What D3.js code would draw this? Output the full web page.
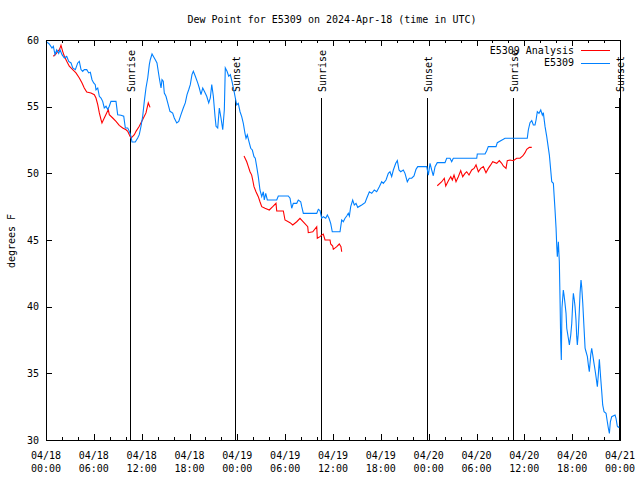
<!DOCTYPE html>
<html><head><meta charset="utf-8">
<script src="https://cdn.jsdelivr.net/npm/d3@7/dist/d3.min.js"></script>
<style>body{margin:0;background:#fff}svg{display:block}</style>
</head><body><svg id="c" width="640" height="480"></svg>
<script>
// ---- data (hours since 2024-04-18 00:00 UTC, dew point in °F) ----
const titleText = "Dew Point for E5309 on 2024-Apr-18 (time in UTC)";
const yLabel = "degrees F";
const xTickHours = [0,6,12,18,24,30,36,42,48,54,60,66,72];
const xTickDates = ["04/18","04/18","04/18","04/18","04/19","04/19","04/19","04/19","04/20","04/20","04/20","04/20","04/21"];
const xTickTimes = ["00:00","06:00","12:00","18:00","00:00","06:00","12:00","18:00","00:00","06:00","12:00","18:00","00:00"];
const yTicks = [30,35,40,45,50,55,60];
const sunHours = [10.54, 23.83, 34.5, 47.83, 58.62, 71.93];
const sunNames = ["Sunrise","Sunset","Sunrise","Sunset","Sunrise","Sunset"];
const seriesNames = ["E5309 Analysis","E5309"];

const blueT = [0,0.41,0.75,0.92,1.13,1.34,1.59,1.76,2.01,2.30,2.60,2.85,3.14,3.35,3.68,3.98,4.18,4.39,4.60,4.80,5.11,5.36,5.56,5.77,5.98,6.18,6.27,6.49,6.69,6.90,7.11,7.31,7.53,7.74,7.94,8.15,8.78,8.99,9.41,9.75,9.95,10.25,10.45,10.66,10.79,11.20,11.50,11.70,11.92,12.13,12.33,12.54,12.76,12.96,13.08,13.30,13.46,13.71,13.92,14.21,14.43,14.55,14.71,14.84,15.05,15.27,15.55,15.89,16.09,16.40,16.65,16.93,17.22,17.47,17.69,17.90,18.10,18.31,18.48,18.73,19.03,19.23,19.44,19.66,19.86,20.16,20.41,20.61,20.79,20.99,21.20,21.33,21.54,21.74,21.95,22.17,22.37,22.49,22.71,22.92,23.12,23.33,23.55,23.75,23.92,24.12,24.34,24.55,24.75,24.96,25.09,25.25,25.46,25.68,25.88,26.09,26.25,26.43,26.63,26.84,27.06,27.26,27.38,27.56,27.76,28.94,29.14,30.39,30.61,30.82,31.02,31.45,31.65,31.95,32.08,32.28,33.96,34.16,34.37,34.58,34.78,35.09,35.29,35.50,35.71,35.91,36.88,37.09,37.29,37.51,37.72,37.92,38.05,38.22,38.47,38.67,38.89,39.10,39.60,40.02,40.23,40.56,40.86,41.18,41.48,41.81,42.11,42.31,42.65,42.94,43.15,43.36,43.57,43.87,44.07,44.28,44.49,44.82,45.03,45.32,45.57,45.87,46.16,46.41,46.63,47.76,47.96,48.17,48.38,48.58,48.80,49.08,50.05,50.26,50.68,50.89,51.09,54.03,54.10,55.07,55.28,55.48,56.45,56.61,57.58,60.37,60.50,60.71,60.93,61.13,61.34,61.47,61.63,61.84,62.06,62.26,62.38,62.60,62.81,63.14,63.44,63.64,63.85,63.98,64.07,64.14,64.27,64.39,64.48,64.56,64.64,64.72,64.89,64.98,65.10,65.23,65.32,65.52,65.65,65.82,65.95,66.07,66.15,66.27,66.36,66.48,66.57,66.65,66.77,66.90,66.99,67.11,67.20,67.33,67.49,67.62,67.74,67.91,68.03,68.15,68.33,68.45,68.58,68.74,68.87,68.99,69.16,69.28,69.41,69.58,69.71,69.83,70.00,70.25,70.41,70.54,70.67,70.79,70.96,71.38,71.50,71.66,71.79,71.92];
const blueV = [59.9,59.7,59.4,59.53,58.9,59.27,59.0,59.27,58.9,58.65,58.78,58.4,58.28,57.9,57.78,58.28,58.4,57.78,57.65,57.78,57.78,57.53,57.58,57.02,56.78,56.65,56.27,56.4,55.78,55.65,55.4,54.9,55.03,54.78,55.03,55.4,55.4,54.4,54.35,54.28,53.4,53.4,53.15,52.78,52.35,52.35,52.65,52.9,53.53,54.28,55.4,56.4,57.15,58.15,58.52,58.95,58.78,58.52,58.28,57.15,56.4,57.02,56.9,56.02,55.78,55.28,54.65,54.52,54.15,53.78,53.9,54.4,54.9,55.28,55.9,56.27,56.65,57.4,57.65,57.28,56.78,56.4,55.9,56.4,56.15,55.78,55.28,55.65,56.65,55.78,54.28,53.53,53.4,54.9,54.15,53.27,54.77,57.9,57.65,57.28,57.4,56.9,56.27,55.65,55.13,55.25,54.62,54.25,53.75,53.0,52.63,52.88,52.37,51.88,51.75,51.25,51.13,50.5,49.75,48.75,48.25,48.62,48.0,48.5,48.0,48.0,48.3,48.3,48.13,47.38,47.75,47.75,48.0,47.87,47.5,47.0,47.0,47.3,47.2,46.63,46.75,46.63,46.88,46.63,46.25,45.62,45.62,46.5,46.37,46.63,46.8,47.0,46.8,47.5,48.0,47.63,47.75,47.45,47.63,47.8,48.13,48.62,48.5,48.75,48.62,49.0,49.37,49.25,49.5,50.0,50.12,49.75,50.25,50.75,50.95,50.25,50.12,50.25,50.0,49.37,49.63,49.63,49.8,50.3,50.5,50.5,49.87,50.75,50.25,49.82,50.5,50.8,50.8,51.13,51.13,50.87,51.13,51.13,51.45,51.45,51.7,52.0,52.0,52.3,52.63,52.63,53.25,53.8,53.95,53.63,53.63,54.0,54.62,54.5,54.75,54.37,54.55,53.5,52.75,51.37,49.37,49.25,47.25,45.88,44.5,43.75,44.87,43.37,40.5,37.5,36.0,39.9,41.25,40.87,40.25,39.5,38.38,37.63,37.13,37.87,38.75,40.25,41.0,40.5,40.0,39.0,37.75,37.13,38.0,39.75,41.0,42.0,41.45,40.25,38.38,36.88,36.62,36.25,35.63,35.12,36.38,36.88,36.38,35.75,35.25,34.75,34.0,34.88,36.05,34.63,33.62,32.63,32.12,32.0,31.37,30.88,30.5,31.37,31.75,31.87,31.63,31.05,30.95,31.0];

// null marks a gap in the analysis series
const redT = [0.92,1.25,1.47,1.67,1.79,1.88,2.09,2.30,2.60,2.92,3.35,3.76,4.18,4.52,4.80,5.11,5.64,6.06,6.27,6.49,6.69,6.90,7.02,7.31,7.61,7.81,7.94,8.37,8.78,9.19,9.62,10.04,10.25,10.45,10.66,10.88,11.08,11.29,11.70,12.13,12.54,12.83,13.05,null,
 24.84,25.18,25.38,25.59,25.80,25.93,26.09,26.34,26.63,26.84,27.06,27.47,28.01,28.44,28.85,28.94,29.77,29.98,30.61,30.95,31.45,31.86,32.36,32.83,32.90,33.46,33.96,34.03,34.37,34.58,34.78,35.00,35.63,35.71,35.96,36.04,36.47,36.79,37.00,37.09,null,
 49.08,49.64,49.96,50.14,50.47,50.77,50.97,51.18,51.43,51.72,52.02,52.27,52.56,52.77,53.06,53.40,53.69,53.94,54.23,54.53,54.86,55.19,55.48,55.78,56.03,56.54,56.86,57.16,57.36,57.70,57.86,58.20,58.62,59.04,59.46,59.80,60.09,60.30,60.63,60.93];
const redV = [58.78,58.95,59.15,59.27,59.45,59.6,59.15,58.78,58.4,58.03,57.78,57.53,57.15,56.78,56.4,56.1,56.03,55.9,55.65,55.15,54.53,54.03,53.78,54.15,54.53,54.78,54.4,54.15,53.9,53.6,53.4,53.27,53.15,52.9,52.65,52.78,52.9,53.15,53.53,54.03,54.53,55.28,54.95,null,
 51.3,50.87,50.5,50.12,49.87,49.5,49.0,48.62,48.25,47.87,47.5,47.38,47.25,47.5,47.75,47.18,47.18,46.5,46.3,46.13,46.37,46.63,46.3,46.0,45.55,45.62,46.0,45.13,45.25,45.37,45.45,45.0,45.0,44.7,44.55,44.3,44.5,44.7,44.5,44.12,null,
 49.07,49.37,49.63,49.05,49.45,49.75,49.5,49.87,49.37,49.75,50.2,49.75,50.0,50.12,49.87,50.25,50.37,50.63,50.12,50.37,50.5,50.05,50.37,50.63,50.87,50.75,50.95,50.75,50.55,50.37,50.95,51.0,50.95,51.13,51.13,51.3,51.55,51.8,51.95,51.95];

// ---- drawing ----
const L = 46, R = 620, FR = 621, T = 40, B = 440;
const FONT = "'DejaVu Sans Mono', 'Liberation Mono', monospace";
const svg = d3.select("#c").style("font-family", FONT).style("font-size", "10px");
const x = d3.scaleLinear().domain([0, 72]).range([L, R]);
const y = d3.scaleLinear().domain([30, 60]).range([B, T]);
const minorX = d3.range(0, 73, 2);

// axes (ticks point inward)
const gB = svg.append("g").attr("transform", `translate(0,${B})`).attr("shape-rendering","crispEdges");
gB.call(d3.axisBottom(x).tickValues(minorX).tickSizeInner(-3).tickSizeOuter(0).tickFormat(""));
gB.append("g").call(d3.axisBottom(x).tickValues(xTickHours).tickSizeInner(-6).tickSizeOuter(0).tickFormat(""));
const gT = svg.append("g").attr("transform", `translate(0,${T})`).attr("shape-rendering","crispEdges");
gT.call(d3.axisTop(x).tickValues(minorX).tickSizeInner(-3).tickSizeOuter(0).tickFormat(""));
gT.append("g").call(d3.axisTop(x).tickValues(xTickHours).tickSizeInner(-6).tickSizeOuter(0).tickFormat(""));
const gL = svg.append("g").attr("transform", `translate(${L},0)`).attr("shape-rendering","crispEdges");
gL.call(d3.axisLeft(y).tickValues(yTicks).tickSizeInner(-6).tickSizeOuter(0).tickPadding(7).tickFormat(d3.format("d")));
const gR = svg.append("g").attr("transform", `translate(${FR},0)`).attr("shape-rendering","crispEdges");
gR.call(d3.axisRight(y).tickValues(yTicks).tickSizeInner(-6).tickSizeOuter(0).tickFormat(""));
svg.selectAll(".domain").remove();
svg.selectAll(".tick line").attr("stroke", "#000");
gL.selectAll("text").attr("fill", "#000").style("font-family", FONT).style("font-size", "10px");

// x tick labels (two lines)
const xl = svg.append("g");
xTickHours.forEach((h, i) => {
  const t = xl.append("text").attr("x", x(h)).attr("text-anchor", "middle").attr("fill", "#000");
  t.append("tspan").attr("x", x(h)).attr("y", 459).text(xTickDates[i]);
  t.append("tspan").attr("x", x(h)).attr("y", 472).text(xTickTimes[i]);
});

// sun lines
sunHours.forEach((h, i) => {
  const xp = Math.floor(x(h)) + 0.5;
  svg.append("line").attr("x1", xp).attr("x2", xp).attr("y1", 98).attr("y2", B)
    .attr("stroke", "#000").attr("stroke-width", 1).attr("shape-rendering","crispEdges");
  svg.append("text").attr("transform", `translate(${xp + 0.5},92) rotate(-90)`)
    .attr("dy", "0.35em").attr("text-anchor", "start").attr("fill", "#000").text(sunNames[i]);
});

// series
const blueData = blueT.map((t, i) => [t, blueV[i]]);
const redData = redT.map((t, i) => [t, redV[i]]);
const line = d3.line().defined(d => d[0] != null && d[1] != null).x(d => x(d[0])).y(d => y(d[1]));
svg.append("path").datum(redData).attr("d", line).attr("fill", "none").attr("stroke", "#ff0000")
  .attr("stroke-width", 1.1);
svg.append("path").datum(blueData).attr("d", line).attr("fill", "none").attr("stroke", "#0080ff")
  .attr("stroke-width", 1.1);

// frame
svg.append("rect").attr("x", L + 0.5).attr("y", T + 0.5).attr("width", FR - L - 1).attr("height", B - T)
  .attr("fill", "none").attr("stroke", "#000").attr("shape-rendering","crispEdges");

// legend
const legColors = ["#ff0000", "#0080ff"];
seriesNames.forEach((n, i) => {
  const yy = 50 + i * 12.5;
  svg.append("text").attr("x", 574).attr("y", yy).attr("dy", "0.35em").attr("text-anchor", "end").attr("fill", "#000").text(n);
  svg.append("line").attr("x1", 581).attr("x2", 610).attr("y1", Math.round(yy) + 0.5).attr("y2", Math.round(yy) + 0.5)
    .attr("stroke", legColors[i]).attr("stroke-width", 1);
});

// title and y label
svg.append("text").attr("x", 332).attr("y", 23).attr("text-anchor", "middle").attr("fill", "#000").text(titleText);
svg.append("text").attr("transform", "translate(11,241) rotate(-90)").attr("dy", "0.35em")
  .attr("text-anchor", "middle").attr("fill", "#000").text(yLabel);
</script></body></html>
